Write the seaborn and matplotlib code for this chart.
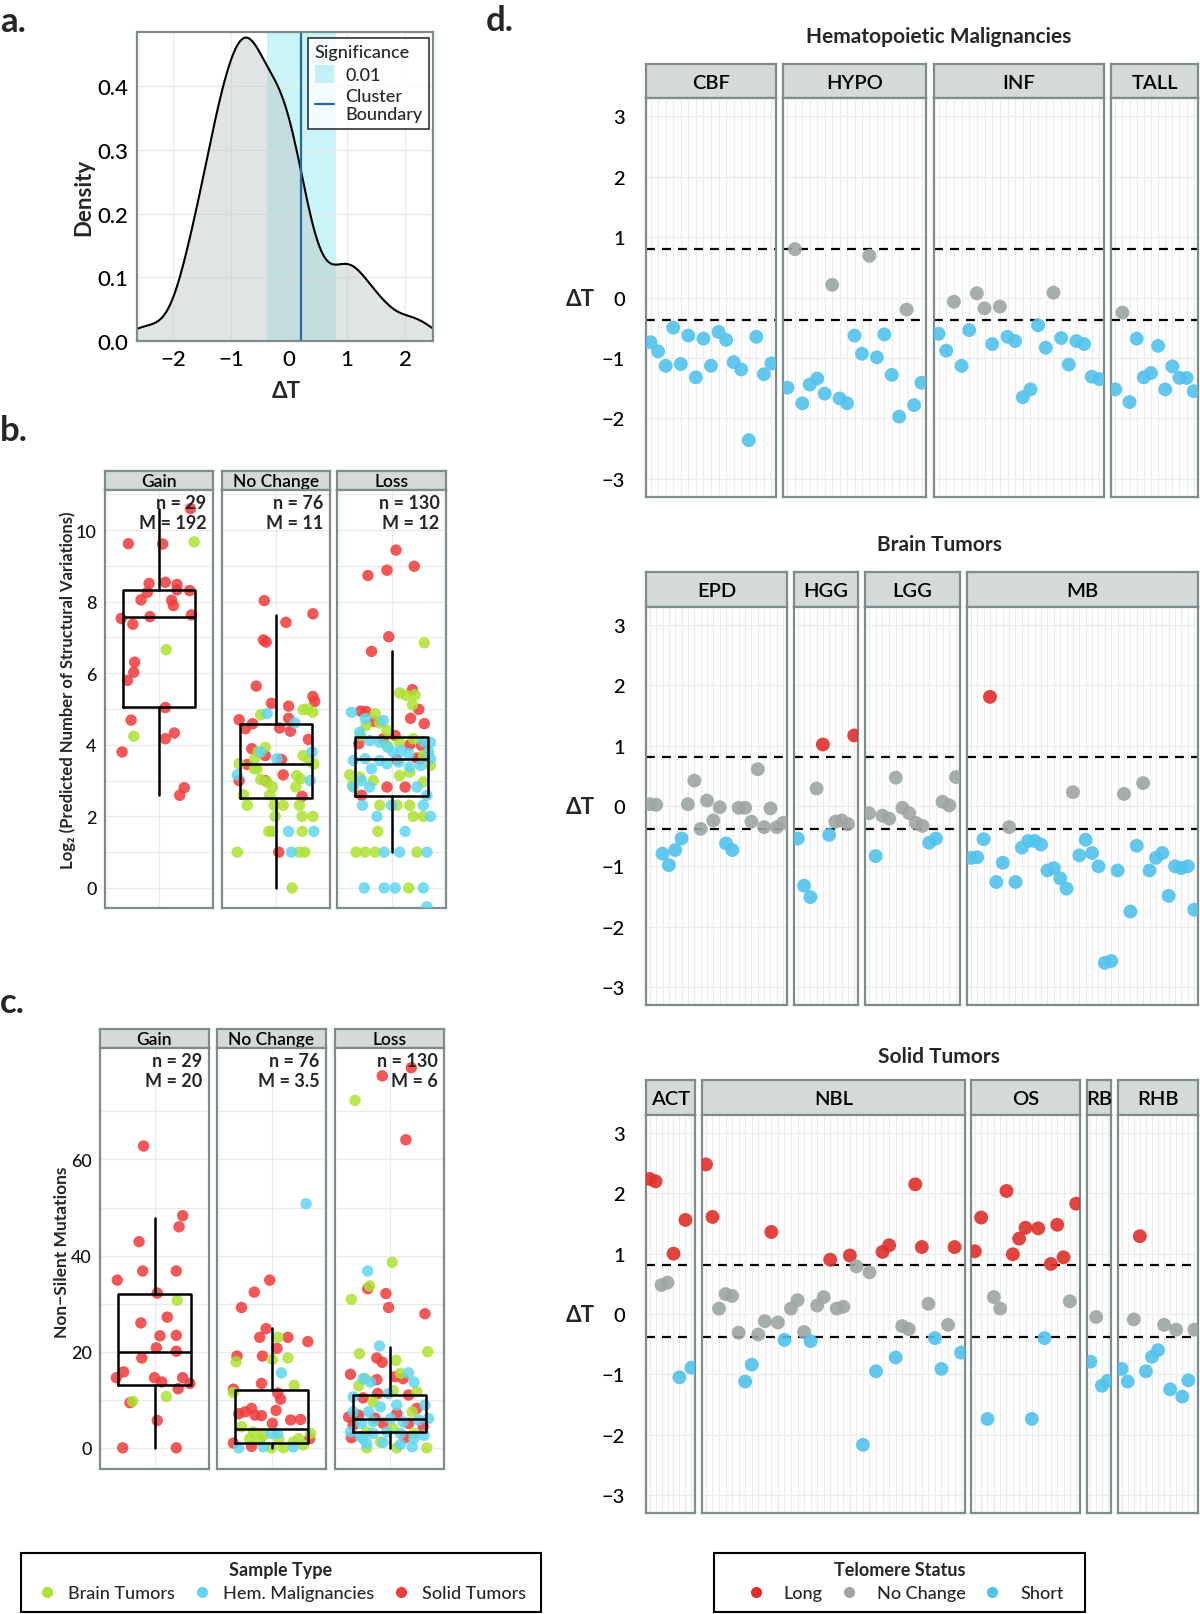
import numpy as np
import pandas as pd
import matplotlib
matplotlib.use("Agg")
import matplotlib.pyplot as plt
from matplotlib.lines import Line2D
from matplotlib.patches import Patch, Rectangle
import seaborn as sns

# ---------------- panel d: delta T per sample (L long, N no change, S short) ----------------
hem_names = ["CBF", "HYPO", "INF", "TALL"]
cbf_dt = [-0.74, -0.89, -1.13, -0.50, -1.10, -0.63, -1.32, -0.68, -1.13, -0.57, -0.70, -1.07,
          -1.19, -2.36, -0.65, -1.27, -1.09]
cbf_st = "SSSSSSSSSSSSSSSSS"
hypo_dt = [-1.49, 0.80, -1.75, -1.44, -1.34, -1.59, 0.21, -1.67, -1.75, -0.63, -0.93, 0.69,
           -0.99, -0.61, -1.28, -1.97, -0.20, -1.78, -1.41]
hypo_st = "SNSSSSNSSSSNSSSSNSS"
inf_dt = [-0.60, -0.88, -0.07, -1.13, -0.54, 0.07, -0.18, -0.77, -0.15, -0.65, -0.72, -1.65,
          -1.52, -0.46, -0.83, 0.08, -0.67, -1.11, -0.72, -0.77, -1.31, -1.35]
inf_st = "SSNSSNNSNSSSSSSNSSSSSS"
tall_dt = [-1.52, -0.25, -1.73, -0.68, -1.32, -1.25, -0.80, -1.52, -1.14, -1.33, -1.33, -1.55]
tall_st = "SNSSSSSSSSSS"

brain_names = ["EPD", "HGG", "LGG", "MB"]
epd_dt = [0.03, 0.02, -0.79, -0.98, -0.73, -0.54, 0.03, 0.42, -0.38, 0.09, -0.24, -0.02,
          -0.62, -0.73, -0.03, -0.03, -0.26, 0.61, -0.35, -0.04, -0.35, -0.28]
epd_st = "NNSSSSNNNNNNSSNNNNNNNN"
hgg_dt = [-0.54, -1.32, -1.51, 0.29, 1.02, -0.48, -0.26, -0.24, -0.30, 1.17]
hgg_st = "SSSNLSNNNL"
lgg_dt = [-0.12, -0.83, -0.16, -0.21, 0.47, -0.03, -0.12, -0.28, -0.33, -0.61, -0.54, 0.07,
          0.01, 0.48]
lgg_st = "NSNNNNNNNSSNNN"
mb_dt = [-0.86, -0.85, -0.55, 1.81, -1.26, -0.94, -0.35, -1.26, -0.69, -0.58, -0.58, -0.64,
         -1.07, -1.03, -1.20, -1.37, 0.23, -0.82, -0.56, -0.78, -1.00, -2.60, -2.57, -1.07,
         0.20, -1.75, -0.66, 0.38, -1.07, -0.86, -0.78, -1.49, -1.00, -1.03, -1.00, -1.72]
mb_st = "SSSLSSNSSSSSSSSSNSSSSSSSNSSNSSSSSSSS"

solid_names = ["ACT", "NBL", "OS", "RB", "RHB"]
act_dt = [2.24, 2.20, 0.48, 0.52, 1.00, -1.05, 1.56, -0.89]
act_st = "LLNNLSLS"
nbl_dt = [2.48, 1.61, 0.09, 0.33, 0.30, -0.31, -1.12, -0.84, -0.34, -0.12, 1.36, -0.14,
          -0.43, 0.09, 0.23, -0.30, -0.45, 0.14, 0.28, 0.90, 0.09, 0.12, 0.97, 0.79,
          -2.17, 0.69, -0.95, 1.03, 1.14, -0.72, -0.20, -0.25, 2.15, 1.11, 0.17, -0.40,
          -0.91, -0.18, 1.11, -0.64]
nbl_st = "LLNNNNSSNNLNSNNNSNNLNNLNSNSLLSNNLLNSSNLS"
os_dt = [1.04, 1.60, -1.74, 0.28, 0.09, 2.04, 0.99, 1.25, 1.43, -1.74, 1.42, -0.40, 0.83,
         1.48, 0.94, 0.21, 1.83]
os_st = "LLSNNLLLLSLSLLLNL"
rb_dt = [-0.79, -0.05, -1.19, -1.11]
rb_st = "SNSS"
rhb_dt = [-0.91, -1.12, -0.09, 1.29, -0.95, -0.71, -0.60, -0.18, -1.25, -0.26, -1.37, -1.10, -0.26]
rhb_st = "SSNLSSSNSNSSN"

# significance band and cluster boundary (delta T)
sig_low, sig_high, boundary = -0.38, 0.81, 0.20

# ---------------- panel b: log2 predicted SVs, (jitter offset, value) ----------------
facet_names = ["Gain", "No Change", "Loss"]
sv_gain_solid = [(0.35, 10.6), (-0.34, 9.62), (0.04, 9.61), (-0.11, 8.51), (-0.13, 8.26), (0.07, 8.54),
                 (0.20, 8.48), (0.20, 8.33), (0.34, 8.31), (-0.20, 8.05), (0.14, 8.04), (0.16, 7.89),
                 (-0.42, 7.53), (-0.10, 7.58), (0.36, 7.63), (-0.29, 7.37), (-0.27, 6.31), (-0.28, 6.03),
                 (-0.35, 5.80), (0.07, 5.04), (-0.31, 4.69), (0.17, 4.33), (0.07, 4.17), (-0.41, 3.80),
                 (0.28, 2.80), (0.23, 2.59)]
sv_gain_brain = [(0.39, 9.67), (0.08, 6.66), (-0.28, 4.24)]
sv_gain_hem = []
sv_nc_solid = [(-0.13, 8.03), (0.41, 7.66), (0.11, 7.42), (-0.14, 6.93), (-0.11, 6.87), (-0.22, 5.64),
               (-0.05, 5.16), (0.14, 5.08), (0.43, 5.21), (0.41, 5.35), (-0.41, 4.70), (-0.34, 4.45),
               (-0.26, 4.59), (0.14, 4.74), (0.04, 4.47), (0.16, 4.38), (0.36, 4.15), (-0.27, 3.89),
               (-0.12, 3.70), (0.06, 3.59), (-0.32, 3.45), (0.08, 3.16), (-0.41, 3.00), (-0.12, 3.00),
               (0.29, 2.56), (0.03, 1.00)]
sv_nc_brain = [(-0.17, 4.84), (0.30, 4.98), (0.41, 4.91), (0.35, 5.0), (-0.12, 3.93), (0.30, 3.70),
               (0.37, 3.56), (0.42, 3.46), (-0.41, 3.47), (-0.24, 3.33), (-0.17, 3.03), (-0.10, 2.96),
               (0.23, 3.14), (0.27, 3.05), (0.22, 2.82), (-0.04, 2.82), (-0.36, 2.60), (-0.32, 2.31),
               (-0.07, 2.60), (-0.02, 2.31), (0.08, 2.31), (0.26, 2.31), (-0.01, 2.0), (0.29, 2.0),
               (0.41, 2.0), (-0.04, 1.58), (0.29, 1.58), (-0.43, 1.0), (0.26, 1.0), (0.32, 1.0),
               (0.18, 0.0), (-0.20, 3.80), (-0.21, 3.33), (-0.08, 1.58), (-0.24, 3.6)]
sv_nc_hem = [(-0.10, 4.87), (0.21, 4.61), (0.01, 3.61), (0.40, 3.80), (-0.43, 3.16), (0.38, 3.0),
             (0.14, 1.58), (0.42, 1.58), (0.17, 1.0), (-0.17, 3.80)]
sv_loss_solid = [(0.05, 9.44), (-0.05, 8.88), (0.25, 8.99), (-0.26, 8.73), (-0.03, 7.02), (-0.22, 6.61),
                 (0.23, 5.54), (0.30, 4.99), (-0.34, 4.94), (-0.28, 4.93), (0.21, 4.74), (0.36, 4.59),
                 (-0.19, 4.65), (-0.09, 4.17), (0.04, 4.26), (-0.36, 4.03), (0.20, 4.0), (0.33, 3.98),
                 (0.06, 3.59), (0.28, 3.63), (0.32, 3.61), (-0.33, 2.59), (-0.05, 2.82), (0.15, 2.82)]
sv_loss_brain = [(0.36, 6.85), (0.09, 5.45), (0.16, 5.38), (0.26, 5.40), (0.23, 5.12), (-0.18, 4.87),
                 (-0.28, 4.54), (-0.13, 4.61), (-0.05, 4.40), (-0.34, 4.26), (-0.05, 3.98), (0.09, 4.07),
                 (0.24, 4.17), (0.35, 3.70), (0.43, 3.42), (-0.46, 3.16), (-0.35, 3.10), (-0.20, 3.0),
                 (0.09, 3.14), (0.20, 3.24), (0.35, 2.96), (-0.13, 2.31), (0.06, 2.31), (0.20, 2.31),
                 (0.24, 2.0), (0.35, 2.0), (-0.15, 1.58), (-0.39, 1.0), (-0.29, 1.0), (-0.18, 1.0),
                 (0.28, 1.0), (0.19, 0.0), (-0.43, 2.87)]
sv_loss_hem = [(-0.44, 4.91), (-0.29, 4.73), (-0.09, 4.68), (-0.35, 4.35), (-0.24, 4.12), (-0.13, 4.07),
               (-0.04, 3.93), (0.02, 3.80), (0.11, 3.84), (0.19, 3.75), (0.35, 4.09), (0.43, 4.07),
               (0.41, 3.80), (-0.42, 3.56), (-0.29, 3.61), (-0.13, 3.56), (-0.05, 3.47), (0.08, 3.52),
               (0.20, 3.38), (0.32, 3.42), (0.43, 3.61), (-0.33, 3.0), (-0.22, 3.33), (-0.42, 2.82),
               (-0.24, 2.82), (0.28, 2.82), (0.39, 2.59), (-0.32, 2.31), (0.0, 2.31), (0.35, 2.31),
               (-0.16, 2.0), (0.43, 2.0), (0.15, 1.58), (-0.08, 1.0), (0.09, 1.0), (0.39, 1.0),
               (-0.30, 0.0), (-0.08, 0.0), (0.04, 0.0), (0.35, 0.0), (0.39, -0.53)]
sv_box_lo = [2.59, 0.0, 1.0]
sv_box_q1 = [5.05, 2.51, 2.58]
sv_box_med = [7.57, 3.45, 3.59]
sv_box_q3 = [8.33, 4.59, 4.23]
sv_box_hi = [10.59, 7.64, 6.61]
sv_labels = ["n = 29\nM = 192", "n = 76\nM = 11", "n = 130\nM = 12"]

# ---------------- panel c: non-silent mutations ----------------
mut_gain_solid = [(-0.12, 62.8), (0.31, 48.3), (0.27, 46.0), (-0.17, 42.9), (-0.13, 36.8), (0.24, 36.8),
                  (-0.41, 34.9), (0.03, 32.2), (-0.15, 26.0), (0.14, 27.2), (0.06, 23.3), (0.24, 23.4),
                  (0.02, 20.8), (0.24, 20.1), (-0.14, 18.7), (-0.34, 15.8), (-0.42, 14.6), (0.0, 14.6),
                  (0.08, 13.7), (0.31, 14.6), (0.39, 13.4), (0.26, 12.3), (-0.27, 9.4), (0.03, 5.7),
                  (-0.35, 0.0), (0.24, 0.0)]
mut_gain_brain = [(0.25, 30.7), (-0.24, 9.7), (0.13, 10.7)]
mut_gain_hem = []
mut_nc_solid = [(-0.02, 34.9), (-0.19, 32.4), (-0.33, 29.2), (-0.06, 24.8), (-0.13, 23.0), (0.18, 23.0),
                (0.40, 22.1), (0.06, 20.7), (-0.38, 19.1), (-0.10, 19.1), (-0.11, 13.4), (-0.42, 12.2),
                (0.07, 11.4), (0.10, 10.1), (0.05, 7.8), (-0.22, 8.2), (-0.29, 7.5), (-0.36, 7.1),
                (-0.18, 6.8), (-0.11, 6.7), (0.01, 5.1), (0.21, 5.8), (0.32, 5.9), (-0.42, 1.0),
                (-0.22, 0.3), (0.42, 1.9)]
mut_nc_brain = [(0.07, 23.0), (0.18, 18.7), (0.01, 18.4), (-0.39, 17.9), (0.25, 13.0), (-0.42, 11.5),
                (-0.33, 4.4), (-0.24, 1.9), (-0.13, 1.6), (0.0, 0.0), (0.13, 0.0), (0.24, 1.2),
                (0.35, 0.6), (0.43, 3.0), (-0.20, 3.3), (-0.09, 2.6), (0.30, 1.9), (0.08, 1.9)]
mut_nc_hem = [(0.11, 15.6), (0.38, 50.8), (-0.36, 0.0), (-0.09, 0.2), (0.24, 0.2), (0.07, 3.0), (0.0, 3.0)]
mut_loss_solid = [(0.24, 79.1), (-0.08, 77.4), (0.18, 64.1), (-0.24, 33.1), (-0.04, 32.1), (-0.01, 29.2),
                  (0.39, 27.9), (-0.14, 18.7), (-0.08, 17.8), (-0.43, 15.3), (0.06, 14.8), (0.15, 14.4),
                  (-0.14, 14.2), (-0.29, 10.4), (-0.13, 11.3), (0.21, 11.0), (-0.45, 6.4), (-0.34, 6.8),
                  (-0.16, 6.2), (0.08, 7.1), (0.30, 8.2), (0.21, 5.1), (-0.07, 5.1), (0.37, 4.4),
                  (-0.42, 2.1), (0.17, 2.1), (-0.40, 4.7)]
mut_loss_brain = [(-0.38, 72.3), (0.03, 38.6), (-0.42, 30.9), (-0.22, 33.7), (-0.33, 19.6), (0.42, 20.0),
                  (0.07, 18.2), (-0.27, 14.4), (0.12, 15.5), (-0.34, 12.9), (0.04, 11.9), (0.30, 11.7),
                  (-0.18, 9.6), (0.25, 7.5), (-0.25, 3.3), (-0.10, 1.2), (0.08, 0.0), (0.41, 0.0),
                  (-0.25, 0.0), (0.27, 3.0), (0.04, 4.0)]
mut_loss_hem = [(-0.24, 36.8), (-0.11, 21.2), (0.21, 15.6), (-0.29, 14.4), (-0.21, 13.7), (0.27, 13.7),
                (-0.01, 11.3), (-0.40, 10.6), (0.39, 8.9), (-0.10, 8.5), (0.08, 8.9), (-0.23, 7.5),
                (0.43, 6.1), (-0.40, 7.5), (-0.31, 5.1), (-0.18, 5.4), (0.01, 6.1), (0.15, 5.4),
                (0.32, 5.8), (-0.43, 3.3), (-0.32, 2.3), (-0.18, 3.0), (-0.03, 3.3), (0.12, 3.0),
                (0.27, 1.9), (0.38, 2.6), (-0.25, 0.9), (-0.07, 1.1), (0.12, 0.7), (0.25, 0.2),
                (-0.29, 1.9)]
mut_box_lo = [0.0, 0.0, 0.0]
mut_box_q1 = [13.0, 1.1, 3.2]
mut_box_med = [20.0, 4.0, 6.0]
mut_box_q3 = [32.1, 12.0, 11.1]
mut_box_hi = [47.9, 25.0, 21.0]
mut_labels = ["n = 29\nM = 20", "n = 76\nM = 3.5", "n = 130\nM = 6"]

type_names = ["Brain Tumors", "Hem. Malignancies", "Solid Tumors"]
type_colors = {"Brain Tumors": "#ADE233", "Hem. Malignancies": "#62D6F0", "Solid Tumors": "#F03B3B"}
status_names = {"L": "Long", "N": "No Change", "S": "Short"}
status_colors = {"Long": "#DF2F2B", "No Change": "#9EA5A5", "Short": "#52C2EC"}

EDGE = "#7E8C8C"
STRIP = "#D4DADA"
GRID = "#EBEBEB"

sns.set_theme(style="white")
plt.rcParams["font.family"] = ["Lato", "DejaVu Sans"]
plt.rcParams["font.weight"] = "medium"

W, H = 1200, 1615
fig = plt.figure(figsize=(W / 100, H / 100), dpi=100)


def add_ax(x0, y0, x1, y1):
    return fig.add_axes([x0 / W, 1 - y1 / H, (x1 - x0) / W, (y1 - y0) / H])


def frame(ax):
    ax.set_facecolor("white")
    for sp in ax.spines.values():
        sp.set_visible(True)
        sp.set_color(EDGE)
        sp.set_linewidth(1.6)
    ax.set_axisbelow(True)


def strip(x0, y0, x1, y1, label, size):
    s = add_ax(x0, y0, x1, y1)
    s.set_facecolor(STRIP)
    s.set_xticks([])
    s.set_yticks([])
    for sp in s.spines.values():
        sp.set_color(EDGE)
        sp.set_linewidth(1.6)
    s.text(0.5, 0.47, label, ha="center", va="center", fontsize=size, color="black",
           fontweight="semibold", transform=s.transAxes)


# ================= panel a =================
all_dt = np.array(cbf_dt + hypo_dt + inf_dt + tall_dt + epd_dt + hgg_dt + lgg_dt + mb_dt
                  + act_dt + nbl_dt + os_dt + rb_dt + rhb_dt)
sd = np.std(all_dt, ddof=1)
iqr = np.subtract(*np.percentile(all_dt, [75, 25]))
bw_adj = 0.9 * min(sd, iqr / 1.34) / sd  # R's default bandwidth (nrd0)

axa = add_ax(137, 33, 433, 342)
frame(axa)
axa.axvspan(sig_low, sig_high, color="#C9F5F8", lw=0, zorder=0.5)
sns.kdeplot(x=all_dt, bw_adjust=bw_adj, fill=True, color="#B9C0C0", alpha=0.42, linewidth=0, ax=axa)
sns.kdeplot(x=all_dt, bw_adjust=bw_adj, color="black", linewidth=1.5, ax=axa)
axa.axvline(boundary, color="#2A6A99", lw=1.6)
axa.set_xlim(-2.62, 2.48)
axa.set_ylim(0, 0.485)
axa.set_xticks([-2, -1, 0, 1, 2])
axa.set_yticks([0.0, 0.1, 0.2, 0.3, 0.4])
axa.set_yticklabels(["0.0", "0.1", "0.2", "0.3", "0.4"])
axa.grid(True, color=GRID, lw=1)
axa.tick_params(labelsize=16, length=4, color="#555555", width=1.2, pad=2, labelcolor="black")
axa.set_xlabel("")
axa.set_ylabel("")
fig.text(84 / W, 1 - 197 / H, "Density", rotation=90, ha="center", va="center", fontsize=16,
         fontweight="bold")
fig.text(286 / W, 1 - 392 / H, "ΔT", ha="center", va="center", fontsize=16, fontweight="bold")
leg = axa.legend(handles=[Patch(facecolor="#C4F0F7", edgecolor="none", label="0.01"),
                          Line2D([], [], color="#2A6A99", lw=1.6, label="Cluster\nBoundary")],
                 title="Significance", loc="upper right", bbox_to_anchor=(0.986, 0.981),
                 borderaxespad=0, fontsize=13, title_fontsize=13, alignment="left",
                 frameon=True, fancybox=False, edgecolor="black", handlelength=1.1,
                 handleheight=1.2, handletextpad=0.6, labelspacing=0.25, borderpad=0.35)
leg.get_frame().set_linewidth(1.2)


# ================= panels b and c =================
def jitter_facets(xs, y0, y1, s0, groups, box, labels, ylim, yticks, minor):
    for i, (x0, x1) in enumerate(xs):
        strip(x0, s0, x1, y0, facet_names[i], 12.5)
        ax = add_ax(x0, y0, x1, y1)
        frame(ax)
        solid, brain, hem = groups[i]
        df = pd.concat([pd.DataFrame(solid, columns=["off", "val"]).assign(kind="Solid Tumors"),
                        pd.DataFrame(brain, columns=["off", "val"]).assign(kind="Brain Tumors"),
                        pd.DataFrame(hem, columns=["off", "val"]).assign(kind="Hem. Malignancies")],
                       ignore_index=True)
        sns.scatterplot(data=df, x="off", y="val", hue="kind", palette=type_colors, s=68,
                        alpha=0.85, edgecolor="none", legend=False, ax=ax, zorder=3)
        lo, q1, med, q3, hi = (b[i] for b in box)
        ax.bxp([dict(med=med, q1=q1, q3=q3, whislo=lo, whishi=hi, fliers=[])], positions=[0],
               widths=0.8, showfliers=False, showcaps=False, manage_ticks=False,
               boxprops=dict(color="black", linewidth=1.8),
               whiskerprops=dict(color="black", linewidth=1.8),
               medianprops=dict(color="black", linewidth=1.8), zorder=4)
        ax.text(0.94, 0.99, labels[i], ha="right", va="top", fontsize=13, fontweight="bold",
                linespacing=1.2, transform=ax.transAxes, zorder=5)
        ax.set_xlim(-0.6, 0.6)
        ax.set_ylim(*ylim)
        ax.set_xticks([0])
        ax.set_yticks(yticks)
        ax.set_yticks(minor, minor=True)
        ax.grid(True, which="both", color=GRID, lw=0.9)
        ax.set_xlabel("")
        ax.set_ylabel("")
        ax.tick_params(axis="x", length=0, labelbottom=False)
        ax.tick_params(axis="y", which="minor", length=0)
        if i == 0:
            ax.tick_params(axis="y", labelsize=13, length=4, color="#555555", width=1.2, pad=2,
                           labelcolor="#111111")
        else:
            ax.tick_params(axis="y", length=0, labelleft=False)


jitter_facets([(105, 213), (222, 330), (337, 446)], 491, 909, 472,
              [(sv_gain_solid, sv_gain_brain, sv_gain_hem),
               (sv_nc_solid, sv_nc_brain, sv_nc_hem),
               (sv_loss_solid, sv_loss_brain, sv_loss_hem)],
              (sv_box_lo, sv_box_q1, sv_box_med, sv_box_q3, sv_box_hi), sv_labels,
              (-0.56, 11.12), [0, 2, 4, 6, 8, 10], [1, 3, 5, 7, 9, 11])
fig.text(68 / W, 1 - 690 / H, "Log₂ (Predicted Number of Structural Variations)", rotation=90,
         ha="center", va="center", fontsize=12, fontweight="bold")

jitter_facets([(100, 209), (217, 326), (335, 444)], 1049, 1470, 1030,
              [(mut_gain_solid, mut_gain_brain, mut_gain_hem),
               (mut_nc_solid, mut_nc_brain, mut_nc_hem),
               (mut_loss_solid, mut_loss_brain, mut_loss_hem)],
              (mut_box_lo, mut_box_q1, mut_box_med, mut_box_q3, mut_box_hi), mut_labels,
              (-4.4, 83.2), [0, 20, 40, 60], [10, 30, 50, 70])
fig.text(62 / W, 1 - 1252 / H, "Non\u2212Silent Mutations", rotation=90,
         ha="center", va="center", fontsize=12.5, fontweight="bold")


# ================= panel d =================
def dt_row(title, title_y, s0, y0, y1, edges, names, dts, sts, zero_y):
    fig.text(939 / W, 1 - title_y / H, title, ha="center", va="center", fontsize=15,
             fontweight="bold")
    for i, (x0, x1) in enumerate(edges):
        strip(x0, s0, x1, y0, names[i], 14.5)
        ax = add_ax(x0, y0, x1, y1)
        frame(ax)
        n = len(dts[i])
        idx = np.arange(1, n + 1)
        df = pd.DataFrame({"idx": idx, "dt": dts[i], "status": [status_names[c] for c in sts[i]]})
        ax.axhline(sig_high, color="black", lw=1.6, ls=(0, (4, 3.2)), zorder=1.5)
        ax.axhline(sig_low, color="black", lw=1.6, ls=(0, (4, 3.2)), zorder=1.5)
        sns.scatterplot(data=df, x="idx", y="dt", hue="status", palette=status_colors, s=100,
                        alpha=0.9, edgecolor="none", legend=False, ax=ax, zorder=3)
        ax.set_xlim(0.4, n + 0.6)
        ax.set_ylim(-3.3, 3.3)
        ax.set_xticks(idx)
        ax.set_yticks(range(-3, 4))
        ax.grid(True, color="#EDEDED", lw=0.9)
        ax.set_xlabel("")
        ax.set_ylabel("")
        ax.tick_params(axis="x", length=0, labelbottom=False)
        if i == 0:
            ax.tick_params(axis="y", length=0, labelsize=14.5, pad=15, labelcolor="black")
        else:
            ax.tick_params(axis="y", length=0, labelleft=False)
    fig.text(580 / W, 1 - zero_y / H, "ΔT", ha="center", va="center", fontsize=16,
             fontweight="bold")


dt_row("Hematopoietic Malignancies", 37, 65, 99, 498,
       [(646, 776), (783, 926), (934, 1104), (1111, 1198)], hem_names,
       [cbf_dt, hypo_dt, inf_dt, tall_dt], [cbf_st, hypo_st, inf_st, tall_st], 299)
dt_row("Brain Tumors", 545, 573, 608, 1006,
       [(646, 787), (794, 858), (865, 960), (967, 1198)], brain_names,
       [epd_dt, hgg_dt, lgg_dt, mb_dt], [epd_st, hgg_st, lgg_st, mb_st], 808)
dt_row("Solid Tumors", 1057, 1081, 1116, 1514,
       [(646, 695), (702, 965), (971, 1080), (1087, 1111), (1118, 1198)], solid_names,
       [act_dt, nbl_dt, os_dt, rb_dt, rhb_dt], [act_st, nbl_st, os_st, rb_st, rhb_st], 1316)

# ================= panel letters =================
for letter, x, y in [("a.", 0, 32), ("b.", 0, 441), ("c.", 0, 1013), ("d.", 486, 31)]:
    fig.text(x / W, 1 - y / H, letter, ha="left", va="baseline", fontsize=25, fontweight="bold")

# ================= bottom legends =================
for (x0, x1) in [(21, 541), (714, 1085)]:
    fig.patches.append(Rectangle((x0 / W, 1 - 1613 / H), (x1 - x0) / W, 59 / H,
                                 transform=fig.transFigure, fill=False, edgecolor="black", lw=1.5))

fig.text(281 / W, 1 - 1571 / H, "Sample Type", ha="center", va="center", fontsize=13,
         fontweight="bold")
fig.legend(handles=[Line2D([], [], marker="o", ls="", color=type_colors[t], markersize=7, label=t)
                    for t in type_names],
           loc="center", bbox_to_anchor=(282 / W, 1 - 1594 / H), ncol=3, frameon=False,
           fontsize=13, handlelength=1.0, handletextpad=0.65, columnspacing=1.0,
           borderaxespad=0, borderpad=0)

fig.text(900 / W, 1 - 1571 / H, "Telomere Status", ha="center", va="center", fontsize=13,
         fontweight="bold")
fig.legend(handles=[Line2D([], [], marker="o", ls="", color=status_colors[s], markersize=7, label=s)
                    for s in ["Long", "No Change", "Short"]],
           loc="center", bbox_to_anchor=(905 / W, 1 - 1594 / H), ncol=3, frameon=False,
           fontsize=13, handlelength=1.0, handletextpad=1.05, columnspacing=0.95,
           borderaxespad=0, borderpad=0)

fig.savefig("out.png", dpi=100)
